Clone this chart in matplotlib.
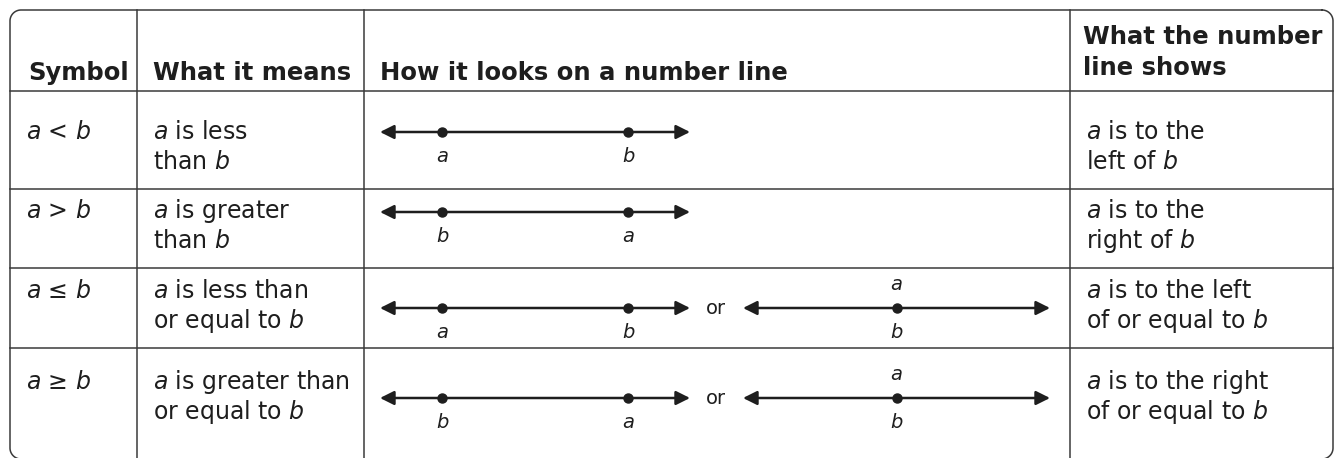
import numpy as np
import matplotlib.pyplot as plt
from matplotlib.patches import FancyArrowPatch

plt.rcParams["font.family"] = ["DejaVu Sans"]
plt.rcParams["mathtext.fontset"] = "dejavusans"

# table content
headers = ["Symbol", "What it means", "How it looks on a number line"]
header_last = ["What the number", "line shows"]

symbols = ["$a$ < $b$", "$a$ > $b$", "$a$ \u2264 $b$", "$a$ \u2265 $b$"]
meanings = [
    ["$a$ is less", "than $b$"],
    ["$a$ is greater", "than $b$"],
    ["$a$ is less than", "or equal to $b$"],
    ["$a$ is greater than", "or equal to $b$"],
]
shows = [
    ["$a$ is to the", "left of $b$"],
    ["$a$ is to the", "right of $b$"],
    ["$a$ is to the left", "of or equal to $b$"],
    ["$a$ is to the right", "of or equal to $b$"],
]

# number lines: each line runs from 0 to 5 units, points given in units
line_start, line_end = 0, 5
left_points = [1, 4]
left_labels = [("a", "b"), ("b", "a"), ("a", "b"), ("b", "a")]
has_or = [False, False, True, True]
right_point = 2.5
right_labels = ("a", "b")  # above, below

# layout (pixels)
W, H = 1340, 458
box = (10, 10, 1333, 459)  # left, top, right, bottom
rad = 11
col_x = [137, 364, 1070]
row_lines = [91, 189, 268, 348]
text_y = [139, 218, 298, 389]
line_y = [132, 212, 308, 398]
ink = "#1e1e1e"
grid = "#3a3a3a"

fig = plt.figure(figsize=(W / 100, H / 100), dpi=100)
ax = fig.add_axes([0, 0, 1, 1])
ax.set_xlim(0, W)
ax.set_ylim(H, 0)
ax.axis("off")


def frame(l, t, r, b, rad):
    # rounded outline, corners as quarter circles (y grows downward)
    xs, ys = [], []
    corners = [(r - rad, t + rad, -90, 0), (r - rad, b - rad, 0, 90),
               (l + rad, b - rad, 90, 180), (l + rad, t + rad, 180, 270)]
    for cx, cy, a0, a1 in corners:
        th = np.radians(np.linspace(a0, a1, 20))
        xs.extend(cx + rad * np.cos(th))
        ys.extend(cy + rad * np.sin(th))
    xs.append(xs[0])
    ys.append(ys[0])
    ax.plot(xs, ys, color=grid, lw=1.1)


frame(*box, rad)
for x in col_x:
    ax.plot([x, x], [box[1], box[3]], color=grid, lw=1.1)
for y in row_lines:
    ax.plot([box[0], box[2]], [y, y], color=grid, lw=1.1)

# header
hx = [28, 153, 380]
for x, t in zip(hx, headers):
    ax.text(x, 80, t, fontsize=17.5, fontweight="bold", color=ink, va="baseline")
ax.text(1083, 44, header_last[0], fontsize=17.5, fontweight="bold", color=ink, va="baseline")
ax.text(1083, 75, header_last[1], fontsize=17.5, fontweight="bold", color=ink, va="baseline")


def to_px(u, x0, x1):
    return x0 + (u - line_start) / (line_end - line_start) * (x1 - x0)


def number_line(x0, x1, y, pts, below, above=None):
    ax.add_patch(FancyArrowPatch((x0, y), (x1, y), arrowstyle="<|-|>",
                                 mutation_scale=21, lw=1.8, color=ink,
                                 shrinkA=0, shrinkB=0))
    for i, u in enumerate(pts):
        px = to_px(u, x0, x1)
        ax.plot(px, y, "o", ms=6.5, color=ink)
        ax.text(px, y + 30, below[i], fontsize=14, style="italic",
                color=ink, ha="center", va="baseline")
        if above:
            ax.text(px, y - 18, above[i], fontsize=14, style="italic",
                    color=ink, ha="center", va="baseline")


for r in range(4):
    ty = text_y[r]
    ax.text(26, ty, symbols[r], fontsize=17, color=ink, va="baseline")
    for k in range(2):
        ax.text(153, ty + 30 * k, meanings[r][k], fontsize=17, color=ink, va="baseline")
        ax.text(1086, ty + 30 * k, shows[r][k], fontsize=17, color=ink, va="baseline")

    y = line_y[r]
    number_line(380, 690, y, left_points, left_labels[r])
    if has_or[r]:
        ax.text(716, y, "or", fontsize=14, color=ink, ha="center", va="center")
        number_line(743, 1050, y, [right_point], [right_labels[1]], [right_labels[0]])

fig.savefig("out.png", dpi=100, facecolor="white")
